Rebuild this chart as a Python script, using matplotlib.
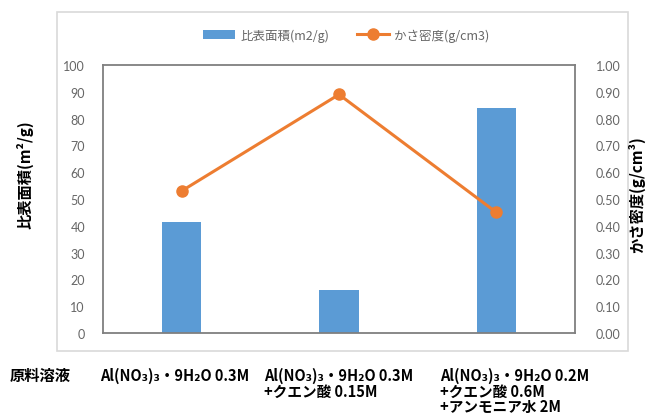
import matplotlib
matplotlib.use('Agg')
import matplotlib.pyplot as plt
from matplotlib.patches import Rectangle
import numpy as np

plt.rcParams['font.family'] = ['Noto Sans CJK JP', 'DejaVu Sans']

# 原料溶液ごとの測定結果
conditions = [
    'Al(NO₃)₃・9H₂O 0.3M',
    'Al(NO₃)₃・9H₂O 0.3M\n+クエン酸 0.15M',
    'Al(NO₃)₃・9H₂O 0.2M\n+クエン酸 0.6M\n+アンモニア水 2M',
]
surface_area = [41.5, 16, 84]       # m2/g
bulk_density = [0.53, 0.89, 0.45]   # g/cm3

left_ticks = np.arange(0, 101, 10)
right_ticks = np.arange(0, 1.01, 0.1)

W, H = 646, 414
fig = plt.figure(figsize=(W / 100, H / 100), dpi=100)
ax = fig.add_axes([103 / W, 80 / H, 472 / W, 268 / H])
ax2 = ax.twinx()

x = np.arange(len(conditions))
bars = ax.bar(x, surface_area, width=0.25, color='#5b9bd5', label='比表面積(m2/g)', zorder=2)
line, = ax2.plot(x, bulk_density, color='#ed7d31', lw=2.2, marker='o', ms=8,
                 label='かさ密度(g/cm3)', zorder=3)

ax.set_xlim(-0.5, 2.5)
ax.set_ylim(0, 100)
ax2.set_ylim(0, 1)
ax.set_xticks([])
ax.set_yticks(left_ticks)
ax.set_yticklabels([f'{v:d}' for v in left_ticks])
ax2.set_yticks(right_ticks)
ax2.set_yticklabels([f'{v:.2f}' for v in right_ticks])

for a in (ax, ax2):
    a.tick_params(axis='y', length=0, labelsize=9, labelcolor='#666666')
    for lab in a.get_yticklabels():
        lab.set_fontfamily(['Lato', 'DejaVu Sans'])
ax.tick_params(axis='y', pad=13)
ax2.tick_params(axis='y', pad=15)

for s in ax.spines.values():
    s.set_color('#7f7f7f')
    s.set_linewidth(1.3)
for s in ax2.spines.values():
    s.set_visible(False)

# 軸タイトル
fig.text(25 / W, 1 - 175 / H, '比表面積(m²/g)', rotation=90, ha='center', va='center',
         fontsize=11, fontweight='bold', color='black')
fig.text(637 / W, 1 - 195 / H, 'かさ密度(g/cm³)', rotation=90, ha='center', va='center',
         fontsize=11, fontweight='bold', color='black')

# 凡例
leg = fig.legend(handles=[bars, line], loc='center', bbox_to_anchor=(346 / W, 1 - 36 / H),
                 ncol=2, frameon=False, fontsize=9, handlelength=2.6, columnspacing=2.2,
                 handletextpad=0.4)
for t in leg.get_texts():
    t.set_color('#666666')

# 原料溶液ラベル
fig.text(10 / W, 1 - 376 / H, '原料溶液', ha='left', va='center',
         fontsize=11, fontweight='bold', color='black')
label_x = [100, 264, 440]
for lx, txt in zip(label_x, conditions):
    fig.text(lx / W, 1 - 368 / H, txt, ha='left', va='top', fontsize=10.5,
             fontweight='bold', color='black', linespacing=0.95)

# グラフエリアの枠
fig.add_artist(Rectangle((57 / W, 1 - 352 / H), 571 / W, 339 / H, transform=fig.transFigure,
                         fill=False, ec='#d9d9d9', lw=1.2))

fig.savefig('out.png', dpi=100)
